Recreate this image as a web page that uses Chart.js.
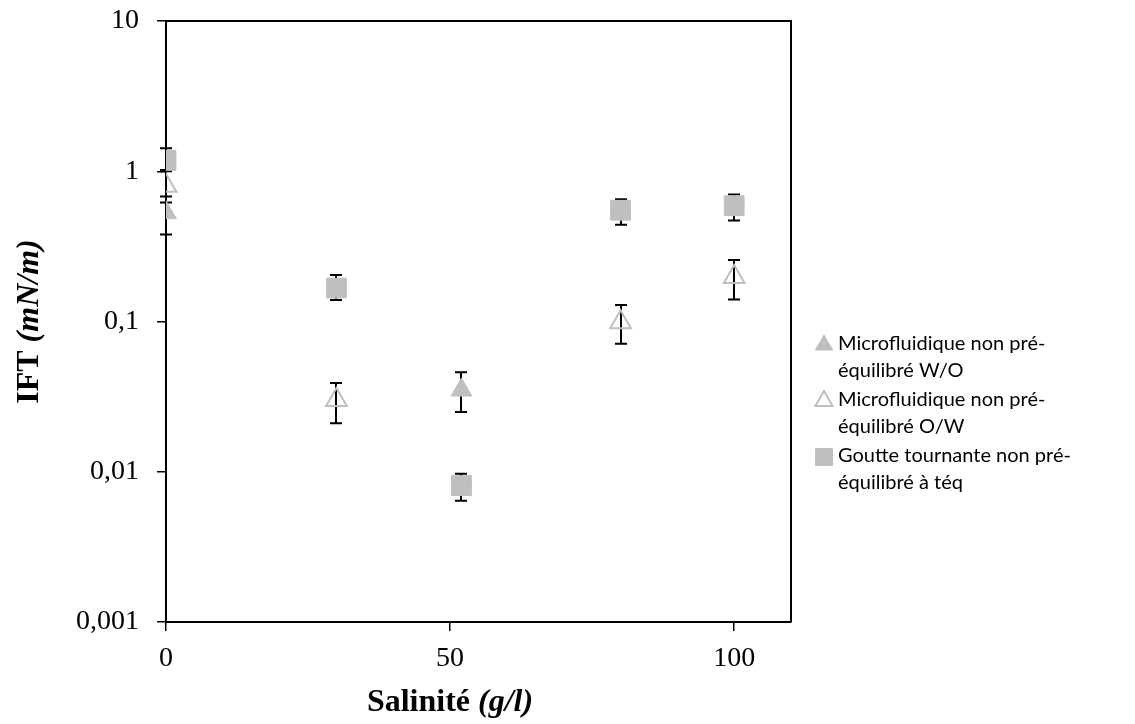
<!DOCTYPE html>
<html><head><meta charset="utf-8">
<script src="https://cdn.jsdelivr.net/npm/chart.js@4"></script>
<style>html,body{margin:0;padding:0;background:#fff}#wrap{width:1135px;height:724px;position:relative}</style>
</head><body><div id="wrap"><canvas id="c" width="1135" height="724"></canvas></div>
<script>
// ---- data ----
const woX = [0, 52];
const woY = [0.53, 0.035];
const woLow = [0.38, 0.025];
const woHigh = [0.62, 0.046];
const owX = [0, 30, 80, 100];
const owY = [0.80, 0.030, 0.099, 0.198];
const owLow = [0.68, 0.021, 0.071, 0.14];
const owHigh = [1.0, 0.039, 0.129, 0.257];
const gtX = [0, 30, 52, 80, 100];
const gtY = [1.18, 0.167, 0.0081, 0.55, 0.59];
const gtLow = [1.02, 0.139, 0.0064, 0.44, 0.47];
const gtHigh = [1.42, 0.204, 0.0097, 0.65, 0.70];
const xTicks = [0, 50, 100];
const yTicks = [0.001, 0.01, 0.1, 1, 10];
const yTickLabels = ['0,001', '0,01', '0,1', '1', '10'];
const legendLines = [
  ['Microfluidique non pré-', 'équilibré W/O'],
  ['Microfluidique non pré-', 'équilibré O/W'],
  ['Goutte tournante non pré-', 'équilibré à téq']
];
const xTitle = ['Salinité ', '(g/l)'];
const yTitle = ['IFT ', '(mN/m)'];

function pts(xs, ys, lo, hi) { return xs.map((x, i) => ({x: x, y: ys[i], lo: lo[i], hi: hi[i]})); }

const GREY = '#bfbfbf';
const serif = '"Liberation Serif", "Times New Roman", serif';
const sans = 'Lato, "Open Sans", sans-serif';

const errorBars = {
  id: 'errorBars',
  beforeDatasetsDraw(chart) {
    const ctx = chart.ctx, xs = chart.scales.x, ys = chart.scales.y;
    ctx.save();
    ctx.strokeStyle = '#000';
    ctx.lineWidth = 2;
    chart.data.datasets.forEach(ds => {
      ds.data.forEach(p => {
        const px = Math.round(xs.getPixelForValue(p.x));
        const yl = ys.getPixelForValue(p.lo), yh = ys.getPixelForValue(p.hi);
        ctx.beginPath();
        ctx.moveTo(px, yl); ctx.lineTo(px, yh);
        ctx.moveTo(px - 6, yl); ctx.lineTo(px + 6, yl);
        ctx.moveTo(px - 6, yh); ctx.lineTo(px + 6, yh);
        ctx.stroke();
      });
    });
    ctx.restore();
  }
};

const decor = {
  id: 'decor',
  afterDraw(chart) {
    const ctx = chart.ctx, a = chart.chartArea;
    ctx.save();
    // frame top/right
    ctx.strokeStyle = '#000';
    ctx.lineWidth = 2;
    ctx.beginPath();
    ctx.moveTo(a.left, a.top); ctx.lineTo(a.right, a.top); ctx.lineTo(a.right, a.bottom);
    ctx.stroke();
    // x title
    ctx.fillStyle = '#000';
    ctx.textBaseline = 'middle';
    const f1 = 'bold 32px ' + serif, f2 = 'italic bold 32px ' + serif;
    ctx.font = f1; const w1 = ctx.measureText(xTitle[0]).width;
    ctx.font = f2; const w2 = ctx.measureText(xTitle[1]).width;
    const cx = 450;
    let x0 = cx - (w1 + w2) / 2;
    ctx.font = f1; ctx.fillText(xTitle[0], x0, 703);
    ctx.font = f2; ctx.fillText(xTitle[1], x0 + w1, 703);
    // y title
    ctx.save();
    ctx.translate(30, (a.top + a.bottom) / 2);
    ctx.rotate(-Math.PI / 2);
    ctx.font = f1; const v1 = ctx.measureText(yTitle[0]).width;
    ctx.font = f2; const v2 = ctx.measureText(yTitle[1]).width;
    let y0 = -(v1 + v2) / 2;
    ctx.font = f1; ctx.fillText(yTitle[0], y0, 0);
    ctx.font = f2; ctx.fillText(yTitle[1], y0 + v1, 0);
    ctx.restore();
    // legend
    const tops = [344, 400, 456];
    ctx.font = '20px ' + sans;
    chart.data.datasets.forEach((ds, i) => {
      const ym = tops[i];
      ctx.fillStyle = ds.backgroundColor;
      ctx.strokeStyle = ds.borderColor;
      ctx.lineWidth = ds.borderWidth;
      Chart.helpers.drawPoint(ctx, {
        pointStyle: ds.pointStyle, radius: ds.pointStyle === 'rect' ? 12 : 10,
        rotation: 0, borderWidth: ds.borderWidth
      }, 824, ym + 1);
      ctx.fillStyle = '#000';
      ctx.fillText(legendLines[i][0], 838, ym);
      ctx.fillText(legendLines[i][1], 838, ym + 27);
    });
    ctx.restore();
  }
};

new Chart(document.getElementById('c'), {
  type: 'scatter',
  data: {
    datasets: [
      { label: legendLines[0].join(''), data: pts(woX, woY, woLow, woHigh), pointStyle: 'triangle', pointRadius: 12,
        backgroundColor: GREY, borderColor: GREY, borderWidth: 1 },
      { label: legendLines[1].join(''), data: pts(owX, owY, owLow, owHigh), pointStyle: 'triangle', pointRadius: 12,
        backgroundColor: 'rgba(0,0,0,0)', borderColor: GREY, borderWidth: 2 },
      { label: legendLines[2].join(''), data: pts(gtX, gtY, gtLow, gtHigh), pointStyle: 'rect', pointRadius: 14,
        backgroundColor: GREY, borderColor: GREY, borderWidth: 1 }
    ]
  },
  options: {
    responsive: false, animation: false, devicePixelRatio: 1,
    layout: { padding: { left: 0, right: 344, top: 21, bottom: 0 } },
    plugins: { legend: { display: false }, tooltip: { enabled: false } },
    scales: {
      x: {
        type: 'linear', min: 0, max: 110,
        afterBuildTicks: s => { s.ticks = xTicks.map(v => ({value: v})); },
        afterFit: s => { s.height = 102; },
        ticks: { font: { family: serif, size: 28 }, color: '#000', padding: 11 },
        grid: { drawOnChartArea: false, drawTicks: true, tickLength: 9, color: '#000', lineWidth: 1.5 },
        border: { display: true, color: '#000', width: 2 }
      },
      y: {
        type: 'logarithmic', min: 0.001, max: 10,
        afterBuildTicks: s => { s.ticks = yTicks.map(v => ({value: v})); },
        afterFit: s => { s.width = 166; s.paddingTop = 0; s.paddingBottom = 0; },
        ticks: { font: { family: serif, size: 28 }, color: '#000', padding: 18,
          callback: (v) => { const i = yTicks.findIndex(t => Math.abs(t - v) / t < 1e-6); return i >= 0 ? yTickLabels[i] : ''; } },
        grid: { drawOnChartArea: false, drawTicks: true, tickLength: 9, color: '#000', lineWidth: 1.5 },
        border: { display: true, color: '#000', width: 2 }
      }
    }
  },
  plugins: [errorBars, decor]
});
</script></body></html>
